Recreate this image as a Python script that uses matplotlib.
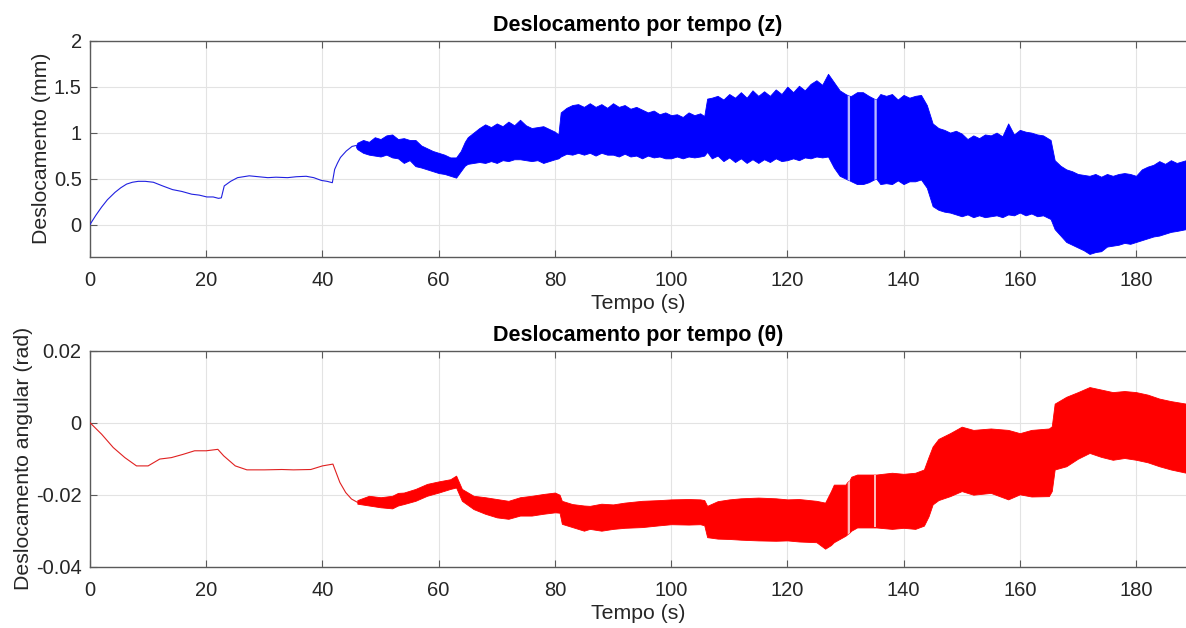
import numpy as np
import matplotlib
matplotlib.use("Agg")
import matplotlib.pyplot as plt

# ---------------- data ----------------
# z(t): slow thin part
z_t = [0, 1, 2, 3, 4.3, 5.3, 6.3, 7.3, 8.3, 9.5, 10.9, 12.5, 14.2, 15.8, 17.5, 18.8,
       20.1, 21.2, 22.1, 22.6, 23.1, 24.2, 25.4, 26.4, 27.4, 29, 30.6, 32, 34, 35.5,
       37.2, 38.5, 39.8, 40.8, 41.7, 42.1, 42.6, 43.1, 44.1, 45.1, 45.8]
z_v = [0, 0.10, 0.19, 0.27, 0.35, 0.40, 0.44, 0.46, 0.47, 0.47, 0.46, 0.42, 0.38, 0.36,
       0.33, 0.32, 0.30, 0.30, 0.285, 0.29, 0.42, 0.47, 0.51, 0.52, 0.53, 0.52, 0.51,
       0.515, 0.51, 0.52, 0.525, 0.51, 0.48, 0.47, 0.455, 0.60, 0.67, 0.73, 0.80, 0.85, 0.86]

# z(t): oscillating part, upper / lower envelope
zb_t = [45.8, 46, 47, 48, 49, 50, 51, 52, 53, 54, 55, 56, 57, 58, 59, 60, 61, 62, 63,
        63.8, 64.5, 65, 66, 67, 68, 69, 70, 71, 72, 73, 74, 75, 76, 77, 78, 79, 80, 80.6,
        81, 82, 83, 84, 85, 86, 87, 88, 89, 90, 91, 92, 93, 94, 95, 96, 97, 98, 99, 100,
        101, 102, 103, 104, 105, 105.7, 106.2, 107, 108, 109, 110, 111, 112, 113, 114,
        115, 116, 117, 118, 119, 120, 121, 122, 123, 124, 125, 126, 127, 128, 129, 130,
        130.3, 130.7, 131, 132, 133, 134, 134.9, 135.3, 136, 137, 138, 139, 140, 141,
        142, 143, 144, 145, 146, 147, 148, 149, 150, 151, 152, 153, 154, 155, 156, 157,
        158, 159, 160, 161, 162, 163, 164, 165.3, 166, 167, 168, 169, 170, 171, 172, 173,
        174, 175, 176, 177, 178, 179, 180, 181, 182, 183, 184, 185, 186, 187, 188.6]
zb_hi = [0.86, 0.89, 0.92, 0.90, 0.95, 0.93, 0.97, 0.98, 0.93, 0.94, 0.92, 0.92, 0.86,
         0.83, 0.80, 0.78, 0.76, 0.73, 0.73, 0.80, 0.90, 0.95, 1.00, 1.05, 1.09, 1.06,
         1.10, 1.07, 1.12, 1.08, 1.14, 1.08, 1.05, 1.06, 1.07, 1.04, 1.01, 0.98, 1.22,
         1.27, 1.30, 1.31, 1.28, 1.32, 1.28, 1.31, 1.27, 1.32, 1.28, 1.30, 1.26, 1.28,
         1.25, 1.22, 1.24, 1.20, 1.22, 1.19, 1.20, 1.17, 1.22, 1.19, 1.21, 1.18, 1.37,
         1.38, 1.40, 1.36, 1.42, 1.38, 1.44, 1.38, 1.46, 1.40, 1.45, 1.40, 1.47, 1.42,
         1.50, 1.44, 1.51, 1.46, 1.53, 1.57, 1.52, 1.64, 1.55, 1.46, 1.42, 1.41, 1.40,
         1.40, 1.44, 1.44, 1.40, 1.37, 1.36, 1.42, 1.40, 1.42, 1.36, 1.41, 1.38, 1.40,
         1.41, 1.30, 1.10, 1.05, 1.03, 1.00, 1.02, 0.99, 0.93, 0.97, 0.94, 0.98, 0.97,
         1.00, 0.96, 1.10, 0.98, 1.03, 1.01, 1.00, 0.98, 0.97, 0.92, 0.70, 0.64, 0.60,
         0.58, 0.55, 0.54, 0.53, 0.55, 0.52, 0.55, 0.53, 0.55, 0.56, 0.55, 0.53, 0.60,
         0.63, 0.65, 0.69, 0.66, 0.70, 0.67, 0.70]
zb_lo = [0.84, 0.82, 0.78, 0.76, 0.75, 0.74, 0.76, 0.73, 0.72, 0.67, 0.70, 0.635, 0.62,
         0.60, 0.58, 0.56, 0.55, 0.53, 0.51, 0.58, 0.64, 0.66, 0.67, 0.68, 0.67, 0.69,
         0.67, 0.70, 0.69, 0.71, 0.71, 0.70, 0.69, 0.70, 0.67, 0.69, 0.71, 0.72, 0.74,
         0.77, 0.76, 0.78, 0.76, 0.78, 0.75, 0.78, 0.76, 0.76, 0.74, 0.77, 0.74, 0.75,
         0.72, 0.75, 0.73, 0.74, 0.72, 0.72, 0.74, 0.72, 0.74, 0.73, 0.74, 0.75, 0.79,
         0.72, 0.75, 0.69, 0.73, 0.68, 0.72, 0.67, 0.71, 0.67, 0.71, 0.68, 0.72, 0.69,
         0.70, 0.72, 0.70, 0.73, 0.72, 0.74, 0.73, 0.74, 0.62, 0.53, 0.50, 0.49, 0.48,
         0.47, 0.44, 0.44, 0.46, 0.49, 0.50, 0.44, 0.45, 0.44, 0.48, 0.44, 0.47, 0.47,
         0.49, 0.40, 0.20, 0.16, 0.14, 0.13, 0.11, 0.09, 0.11, 0.08, 0.10, 0.08, 0.09,
         0.10, 0.08, 0.11, 0.10, 0.13, 0.10, 0.12, 0.09, 0.10, 0.06, -0.05, -0.12, -0.19,
         -0.22, -0.25, -0.28, -0.32, -0.30, -0.29, -0.24, -0.23, -0.22, -0.20, -0.21,
         -0.19, -0.17, -0.15, -0.13, -0.12, -0.10, -0.08, -0.07, -0.05]

# theta(t): slow thin part
th_t = [0, 2, 4, 6, 8, 10, 12, 14, 16, 18, 20, 22, 23, 25, 27, 30, 33, 35, 38, 40,
        41.8, 43, 44, 45, 46]
th_v = [0, -0.0032, -0.0069, -0.0097, -0.0120, -0.0120, -0.0101, -0.0097, -0.0088,
        -0.0078, -0.0078, -0.0074, -0.0092, -0.0120, -0.0131, -0.0131, -0.0130,
        -0.0131, -0.0130, -0.0120, -0.0115, -0.0166, -0.0194, -0.0212, -0.0221]

# theta(t): oscillating part, upper / lower envelope
thb_t = [46, 48, 50, 52, 53, 54, 56, 58, 60, 62, 63, 64, 66, 68, 70, 72, 74, 76, 78,
         80, 80.8, 81.2, 83, 85, 86, 88, 90, 92, 95, 98, 100, 103, 105, 105.7, 106.2,
         108, 110, 112, 115, 118, 120, 122, 125, 126.5, 127.5, 128, 130, 130.3, 130.7,
         131, 132, 134.9, 135.3, 138, 140, 142, 143.5, 144.3, 145, 146, 148, 150, 152,
         155, 158, 160, 162, 165, 165.5, 166, 168, 170, 172, 174, 176, 178, 180, 182,
         184, 186, 188.6]
thb_hi = [-0.0215, -0.0203, -0.0207, -0.0203, -0.0195, -0.0194, -0.0184, -0.0170,
          -0.0163, -0.0157, -0.0147, -0.0184, -0.0203, -0.0207, -0.0212, -0.0217,
          -0.0207, -0.0203, -0.0198, -0.0194, -0.0200, -0.0217, -0.0226, -0.0230,
          -0.0231, -0.0225, -0.0227, -0.0222, -0.0217, -0.0215, -0.0213, -0.0212,
          -0.0213, -0.0215, -0.0231, -0.0218, -0.0213, -0.0210, -0.0208, -0.0210,
          -0.0213, -0.0212, -0.0217, -0.0222, -0.0190, -0.0172, -0.0172, -0.0165,
          -0.0160, -0.0150, -0.0144, -0.0144, -0.0144, -0.0139, -0.0142, -0.0139,
          -0.0130, -0.0095, -0.0066, -0.0045, -0.0029, -0.0011, -0.0020, -0.0016,
          -0.0020, -0.0029, -0.0020, -0.0016, -0.0010, 0.0053, 0.0072, 0.0085, 0.0099,
          0.0092, 0.0085, 0.0088, 0.0085, 0.0078, 0.0067, 0.0060, 0.0053]
thb_lo = [-0.0225, -0.0230, -0.0235, -0.0238, -0.0230, -0.0226, -0.0217, -0.0203,
          -0.0194, -0.0184, -0.0180, -0.0217, -0.0240, -0.0253, -0.0263, -0.0267,
          -0.0258, -0.0258, -0.0253, -0.0249, -0.0250, -0.0281, -0.0290, -0.0300,
          -0.0295, -0.0300, -0.0295, -0.0292, -0.0290, -0.0285, -0.0282, -0.0283,
          -0.0282, -0.0285, -0.0318, -0.0322, -0.0323, -0.0325, -0.0327, -0.0328,
          -0.0327, -0.0330, -0.0332, -0.0350, -0.0340, -0.0332, -0.0314, -0.0310,
          -0.0305, -0.0300, -0.0291, -0.0291, -0.0291, -0.0295, -0.0292, -0.0295,
          -0.0286, -0.0260, -0.0227, -0.0215, -0.0204, -0.0190, -0.0200, -0.0195,
          -0.0213, -0.0199, -0.0205, -0.0204, -0.0190, -0.0130, -0.0121, -0.0100,
          -0.0084, -0.0095, -0.0103, -0.0098, -0.0103, -0.0110, -0.0121, -0.0130,
          -0.0139]

# light vertical gaps inside the bands (start, end)
gaps = [(130.3, 130.7), (134.9, 135.3)]

x_ticks = [0, 20, 40, 60, 80, 100, 120, 140, 160, 180]
z_ticks = [0, 0.5, 1, 1.5, 2]
z_ticklabels = ["0", "0.5", "1", "1.5", "2"]
th_ticks = [-0.04, -0.02, 0, 0.02]
th_ticklabels = ["-0.04", "-0.02", "0", "0.02"]

# ---------------- figure ----------------
plt.rcParams['font.family'] = ['Liberation Sans', 'DejaVu Sans']
W, H = 1186, 628
fig = plt.figure(figsize=(W / 100, H / 100), dpi=100)

left = 90 / W
width = (W - 90) / W
ax1 = fig.add_axes([left, 1 - 256.7 / H, width, 216 / H])
ax2 = fig.add_axes([left, 1 - 566.7 / H, width, 216 / H])


def draw_band(ax, t, hi, lo, color, gapcolor):
    t = np.asarray(t); hi = np.asarray(hi); lo = np.asarray(lo)
    ax.fill_between(t, lo, hi, color=color, linewidth=0.6, edgecolor=color, zorder=3)
    for g0, g1 in gaps:
        m = (t >= g0) & (t <= g1)
        if m.sum() >= 2:
            ax.fill_between(t[m], lo[m], hi[m], color=gapcolor, linewidth=0, zorder=4)


def style(ax, ylim, yticks, yticklabels, ylabel, title):
    ax.set_xlim(0, 188.6)
    ax.set_ylim(*ylim)
    ax.set_xticks(x_ticks)
    ax.set_xticklabels([str(v) for v in x_ticks])
    ax.set_yticks(yticks)
    ax.set_yticklabels(yticklabels)
    ax.grid(True, color='#e3e3e3', linewidth=0.8, zorder=0)
    ax.set_axisbelow(True)
    for s in ['left', 'bottom', 'top']:
        ax.spines[s].set_color('#5a5a5a')
        ax.spines[s].set_linewidth(1.0)
    ax.spines['right'].set_visible(False)
    ax.tick_params(direction='in', length=5, width=0.8, colors='#5a5a5a',
                   labelcolor='#262626', labelsize=14.5, top=True, right=False)
    ax.tick_params(axis='y', pad=6)
    ax.tick_params(axis='x', pad=10)
    ax.set_xlabel('Tempo (s)', fontsize=15.3, color='#262626', labelpad=3)
    ax.set_ylabel(ylabel, fontsize=15.3, color='#262626', labelpad=2)
    ax.set_title(title, fontsize=15.5, fontweight='bold', color='black', pad=7)


# top: z
ax1.plot(z_t, z_v, color='#2020e0', linewidth=0.8, zorder=3)
draw_band(ax1, zb_t, zb_hi, zb_lo, '#0000ff', '#b8b8ff')
style(ax1, (-0.35, 2), z_ticks, z_ticklabels, 'Deslocamento (mm)',
      'Deslocamento por tempo (z)')

# bottom: theta
ax2.plot(th_t, th_v, color='#e02020', linewidth=0.8, zorder=3)
draw_band(ax2, thb_t, thb_hi, thb_lo, '#ff0000', '#ffb8b8')
style(ax2, (-0.04, 0.02), th_ticks, th_ticklabels, 'Deslocamento angular (rad)',
      'Deslocamento por tempo (θ)')

fig.savefig('out.png', dpi=100)
